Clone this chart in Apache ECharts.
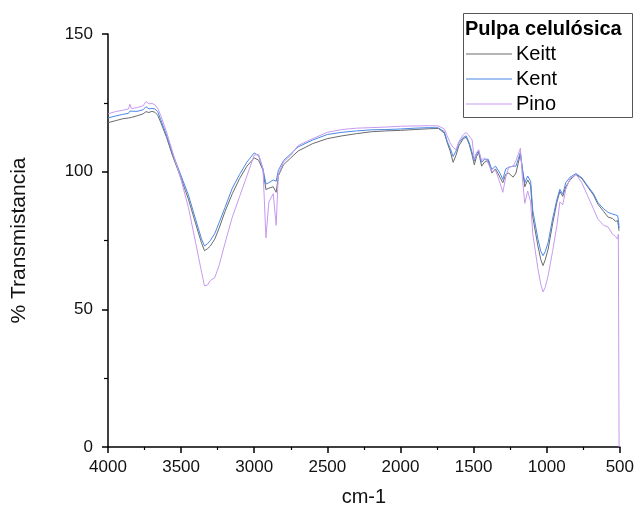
<!DOCTYPE html>
<html>
<head>
<meta charset="utf-8">
<script src="https://cdn.jsdelivr.net/npm/echarts@6/dist/echarts.min.js"></script>
<style>
  html, body { margin: 0; padding: 0; background: #fff; }
  #chart { width: 637px; height: 512px; }
</style>
</head>
<body>
<div id="chart"></div>
<script>
// número de onda (cm-1)
const wavenumbers = [
  4000, 3950, 3900, 3860, 3850, 3840, 3800, 3760, 3740, 3720, 3700, 3680, 3660, 3640,
  3600, 3560, 3500, 3450, 3400, 3360, 3340, 3320, 3300, 3270, 3240, 3200, 3150, 3100,
  3050, 3000, 2970, 2940, 2920, 2900, 2870, 2850, 2835, 2800, 2750, 2700, 2600, 2500,
  2400, 2300, 2200, 2100, 2000, 1900, 1800, 1740, 1700, 1680, 1660, 1640, 1620, 1600,
  1570, 1550, 1530, 1510, 1495, 1480, 1465, 1445, 1425, 1400, 1375, 1350, 1320, 1300,
  1280, 1260, 1230, 1210, 1195, 1180, 1165, 1150, 1130, 1110, 1095, 1060, 1040, 1025,
  1010, 990, 960, 930, 910, 890, 870, 840, 800, 760, 720, 680, 650, 610, 580, 550,
  530, 515, 510, 507, 505
];

const keitt = [
  117.8, 118.5, 119.2, 119.5, 119.8, 119.7, 120.3, 121.0, 121.8, 121.5, 121.9, 121.6, 120.5, 118.0,
  112.5, 106.0, 97.5, 90.0, 81.0, 74.0, 71.3, 72.0, 73.0, 75.5, 79.5, 85.5, 92.0, 97.5,
  102.0, 105.0, 104.2, 100.5, 93.5, 94.0, 94.5, 92.5, 98.5, 102.5, 105.0, 107.5, 110.2, 112.0,
  113.0, 113.8, 114.5, 114.8, 115.0, 115.3, 115.6, 115.7, 114.0, 110.5, 107.5, 103.4, 106.0, 109.5,
  112.0, 112.5, 110.0, 106.0, 102.5, 105.5, 107.0, 102.0, 103.5, 104.0, 99.5, 101.0, 98.0, 96.0,
  99.0, 99.5, 98.0, 99.5, 103.0, 106.5, 100.5, 94.5, 97.0, 95.0, 83.5, 73.0, 68.0, 65.9,
  68.0, 71.9, 81.0, 89.0, 92.8, 91.0, 94.5, 97.0, 99.0, 97.5, 94.5, 91.5, 88.2, 85.5, 83.5, 83.0,
  82.0, 82.2, 80.5, 79.0, 78.5
];

const kent = [
  119.5, 120.2, 120.8, 121.2, 122.0, 121.3, 121.9, 122.5, 123.6, 122.8, 123.0, 122.8, 121.8, 119.0,
  113.3, 106.8, 98.5, 91.5, 82.5, 75.5, 73.0, 73.8, 75.0, 77.5, 81.5, 87.0, 94.0, 99.0,
  103.5, 106.8, 105.8, 101.0, 95.5, 96.0, 97.0, 96.5, 100.5, 104.0, 106.5, 109.0, 111.5, 113.5,
  114.3, 114.8, 115.2, 115.3, 115.5, 115.8, 116.0, 115.9, 114.5, 111.0, 108.5, 105.5, 107.5, 110.5,
  112.5, 113.0, 110.5, 107.0, 103.9, 106.5, 107.5, 103.4, 104.5, 104.5, 100.8, 102.0, 99.5, 97.2,
  101.0, 101.6, 102.0, 102.0, 104.5, 107.0, 100.5, 96.0, 98.4, 96.5, 85.8, 75.5, 71.0, 69.5,
  71.0, 74.3, 82.8, 90.0, 93.6, 91.8, 96.0, 98.0, 99.3, 97.8, 94.8, 92.0, 88.8, 86.5, 85.2, 84.6,
  84.3, 84.0, 82.5, 81.0, 79.5
];

const pino = [
  121.0, 121.8, 122.3, 122.8, 124.5, 122.9, 123.3, 123.9, 125.5, 124.6, 124.8, 124.3, 123.0, 120.5,
  114.5, 107.5, 97.0, 87.0, 74.0, 63.5, 58.5, 58.8, 60.5, 61.5, 66.0, 74.0, 83.5, 91.0,
  98.5, 106.0, 106.3, 101.0, 76.0, 89.0, 92.0, 80.5, 99.0, 103.5, 106.0, 109.5, 112.0, 114.3,
  115.3, 115.8, 116.0, 116.2, 116.5, 116.6, 116.7, 116.6, 115.5, 113.0, 110.5, 108.8, 108.0, 111.0,
  113.5, 114.2, 113.0, 111.5, 104.5, 107.0, 108.0, 104.0, 105.0, 103.0, 100.0, 100.5, 96.0, 92.5,
  98.0, 101.6, 102.0, 104.0, 106.3, 108.5, 97.0, 88.5, 93.0, 89.0, 77.3, 64.7, 59.0, 56.3,
  58.0, 62.3, 71.0, 80.5, 89.0, 88.0, 93.5, 97.5, 99.0, 96.0, 91.2, 86.5, 82.8, 80.5, 79.9, 77.3,
  76.5, 75.5, 77.3, 77.0, 0
];

const xTicks = [500, 4000, 500];   // min, max, intervalo
const yTicks = [0, 150, 50];

const pairs = (vals) => wavenumbers.map((w, i) => [w, vals[i]]);

const chartIns = echarts.init(document.getElementById('chart'), null, {renderer: 'canvas'});

const FONT = 'Liberation Sans, Arial, sans-serif';
const axisText = {color: '#111', fontSize: 17, fontFamily: FONT, formatter: (v) => String(v)};

const lineSeries = (name, vals, color) => ({
  name,
  type: 'line',
  data: pairs(vals),
  symbol: 'none',
  showSymbol: false,
  animation: false,
  lineStyle: {color, width: 1},
  itemStyle: {color},
});

const options = {
  backgroundColor: '#fff',
  animation: false,
  grid: {left: 108, right: 15, top: 34, bottom: 63},
  title: {
    text: 'Pulpa celulósica',
    left: 465,
    top: 19,
    padding: 0,
    textStyle: {fontSize: 20, fontWeight: 'bold', color: '#000', fontFamily: FONT},
  },
  legend: {
    orient: 'vertical',
    left: 466,
    top: 44,
    padding: 0,
    icon: 'rect',
    itemWidth: 46,
    itemHeight: 1,
    itemGap: 5,
    data: ['Keitt', 'Kent', 'Pino'],
    textStyle: {fontSize: 20, lineHeight: 20, color: '#000', fontFamily: FONT, padding: [0, 0, 0, -1]},
  },
  graphic: [{
    type: 'rect',
    shape: {x: 463.5, y: 13.5, width: 169, height: 104},
    style: {fill: null, stroke: '#555', lineWidth: 1},
    z: 100,
  }],
  xAxis: {
    type: 'value',
    inverse: true,
    min: xTicks[0],
    max: xTicks[1],
    interval: xTicks[2],
    name: 'cm-1',
    nameLocation: 'middle',
    nameGap: 40,
    nameTextStyle: {fontSize: 20, color: '#111', fontFamily: FONT},
    axisLine: {onZero: false, lineStyle: {color: '#000', width: 1.5}},
    axisTick: {inside: false, length: 6, lineStyle: {color: '#000', width: 1.5}},
    minorTick: {show: true, splitNumber: 2, length: 3, lineStyle: {color: '#000', width: 1.2}},
    axisLabel: {...axisText, margin: 12},
    splitLine: {show: false},
  },
  yAxis: {
    type: 'value',
    min: yTicks[0],
    max: yTicks[1],
    interval: yTicks[2],
    name: '% Transmistancia',
    nameLocation: 'middle',
    nameGap: 78,
    nameTextStyle: {fontSize: 21, color: '#111', fontFamily: FONT},
    axisLine: {show: true, lineStyle: {color: '#000', width: 1.5}},
    axisTick: {show: true, inside: false, length: 6, lineStyle: {color: '#000', width: 1.5}},
    minorTick: {show: true, splitNumber: 2, length: 4, lineStyle: {color: '#000', width: 1.2}},
    axisLabel: {...axisText, margin: 15},
    splitLine: {show: false},
  },
  series: [
    lineSeries('Keitt', keitt, '#6b6b6b'),
    lineSeries('Kent', kent, '#4a88e6'),
    lineSeries('Pino', pino, '#c79af0'),
  ],
};

chartIns.setOption(options);
</script>
</body>
</html>
